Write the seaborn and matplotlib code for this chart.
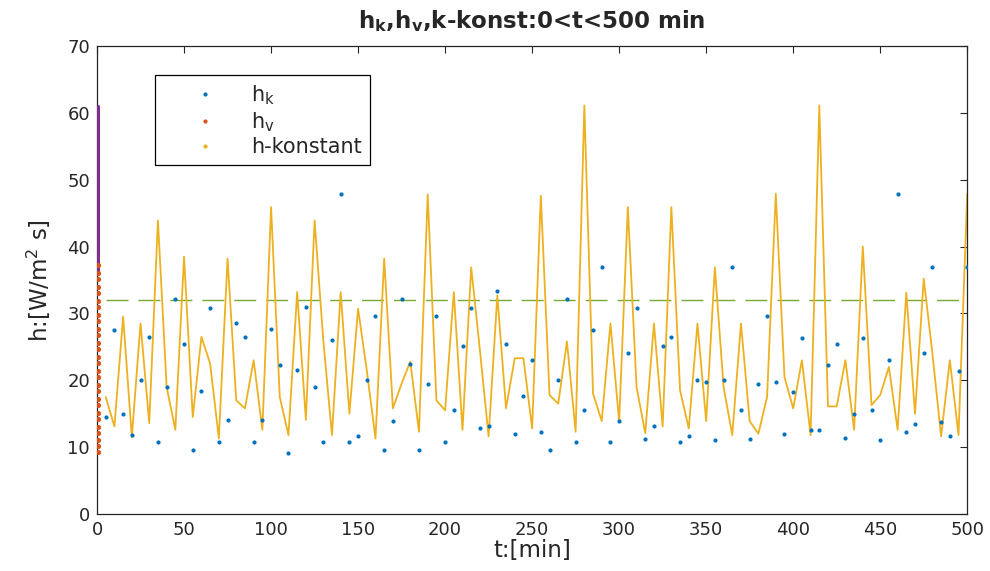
import numpy as np
import pandas as pd
import matplotlib
matplotlib.use("Agg")
import matplotlib.pyplot as plt
import seaborn as sns
from matplotlib.lines import Line2D

# sampling times [min]
t = np.arange(5, 505, 5)

# h-konstant (yellow line)
h_konst = [17.5, 13.1, 29.5, 11.5, 28.5, 13.6, 43.9, 19.0, 12.6, 38.5,
           14.5, 26.5, 22.5, 11.3, 38.2, 17.0, 15.8, 23.0, 12.6, 45.9,
           17.5, 11.8, 33.2, 14.1, 43.9, 26.0, 11.8, 33.2, 15.0, 30.7,
           21.5, 11.3, 38.2, 15.8, 19.5, 22.8, 12.3, 47.8, 17.0, 15.5,
           33.2, 12.6, 36.9, 24.5, 11.6, 32.7, 15.8, 23.3, 23.3, 12.8,
           47.6, 17.8, 16.5, 25.8, 12.3, 61.1, 18.0, 13.9, 28.5, 13.8,
           45.9, 19.0, 12.1, 28.5, 13.1, 45.9, 18.5, 12.8, 28.5, 13.9,
           36.9, 19.0, 11.8, 28.5, 13.9, 12.0, 17.5, 47.9, 20.5, 15.8,
           23.0, 11.8, 61.1, 16.1, 16.1, 23.0, 12.6, 40.0, 16.3, 17.8,
           22.0, 12.6, 33.1, 15.0, 35.2, 24.0, 11.6, 23.0, 11.8, 47.9]

# h_k (blue dots)
h_k = [14.5, 27.5, 15.0, 11.8, 20.1, 26.5, 10.7, 19.0, 32.1, 25.4,
       9.6, 18.4, 30.8, 10.8, 14.1, 28.6, 26.5, 10.7, 14.1, 27.6,
       22.3, 9.2, 21.5, 30.9, 19.0, 10.8, 26.1, 47.9, 10.7, 11.7,
       20.1, 29.6, 9.6, 13.9, 32.1, 22.5, 9.6, 19.4, 29.6, 10.8,
       15.5, 25.1, 30.8, 12.8, 13.1, 33.4, 25.4, 12.0, 17.6, 23.1,
       12.3, 9.6, 20.1, 32.1, 10.8, 15.5, 27.5, 36.9, 10.8, 13.9,
       24.1, 30.8, 11.2, 13.1, 25.1, 26.5, 10.8, 11.7, 20.1, 19.8,
       11.1, 20.1, 36.9, 15.5, 11.2, 19.4, 29.6, 19.8, 12.0, 18.3,
       26.4, 12.6, 12.5, 22.3, 25.4, 11.3, 15.0, 26.4, 15.5, 11.1,
       23.1, 47.9, 12.3, 13.4, 24.1, 36.9, 13.8, 11.7, 21.4, 36.9]

# h_v (red dots squeezed at t ~ 0)
h_v = [9.3, 10.2, 11.0, 12.1, 13.0, 14.2, 15.1, 16.3, 17.2, 18.4,
       19.3, 20.5, 21.4, 22.6, 23.5, 24.7, 25.6, 26.8, 27.7, 28.9,
       29.8, 31.0, 31.9, 33.1, 34.0, 35.2, 36.1, 37.3]
t_v = 0.6
# purple segment at t ~ 0
h_purple = [36.0, 61.0]
k_konst = 32.0

blue = (0, 0.447, 0.741)
red = (0.85, 0.325, 0.098)
yellow = (0.929, 0.694, 0.125)
purple = (0.494, 0.184, 0.556)
green = (0.466, 0.674, 0.188)

sns.set_theme(style="white")
plt.rcParams['font.family'] = ['DejaVu Sans']
plt.rcParams['mathtext.fontset'] = 'dejavusans'
plt.rcParams['mathtext.default'] = 'regular'

df = pd.DataFrame({"t": t, "h_k": h_k, "h_konst": h_konst})
dv = pd.DataFrame({"t": [t_v] * len(h_v), "h_v": h_v})

fig = plt.figure(figsize=(9.9, 5.71), dpi=100)
ax = fig.add_axes([0.098, 0.0998, 0.879, 0.8196])

ax.plot(df.t, [k_konst] * len(df), color=green, lw=1, dashes=(15.8, 7.2))
sns.lineplot(data=df, x="t", y="h_konst", color=yellow, lw=1.3, ax=ax)
sns.scatterplot(data=df, x="t", y="h_k", color=blue, s=9, linewidth=0, ax=ax, zorder=3)
ax.plot([t_v, t_v], h_purple, color=purple, lw=2.2, zorder=3)
sns.scatterplot(data=dv, x="t", y="h_v", color=red, s=14, linewidth=0, ax=ax, zorder=4)

ax.set_xlim(0, 500)
ax.set_ylim(0, 70)
ax.set_xticks(range(0, 501, 50))
ax.set_yticks(range(0, 71, 10))
ax.tick_params(direction="in", length=5, top=True, right=True, labelsize=13,
               colors="0.15", width=0.8, pad=5)
for s in ax.spines.values():
    s.set_color("0.15")
    s.set_linewidth(0.9)

ax.set_xlabel("t:[min]", fontsize=16.5, color="0.15", labelpad=0)
ax.set_ylabel(r"h:[W/m$^2$ s]", fontsize=16.5, color="0.15", labelpad=10)
ax.set_title(r"$\mathbf{h_k}$,$\mathbf{h_v}$,k-konst:0<t<500 min",
             fontsize=16.5, fontweight="bold", pad=13)

handles = [Line2D([], [], ls="none", marker=".", ms=4, color=blue),
           Line2D([], [], ls="none", marker=".", ms=4, color=red),
           Line2D([], [], ls="none", marker=".", ms=4, color=yellow)]
leg = ax.legend(handles, [r"$h_k$", r"$h_v$", "h-konstant"], loc="upper left",
                bbox_to_anchor=(0.0667, 0.938), borderaxespad=0, fontsize=15,
                frameon=True, fancybox=False, edgecolor="black", framealpha=1,
                handlelength=4.0, handletextpad=0.2, borderpad=0.4,
                labelspacing=0.15)
leg.get_frame().set_linewidth(0.9)

fig.savefig("out.png", dpi=100)
